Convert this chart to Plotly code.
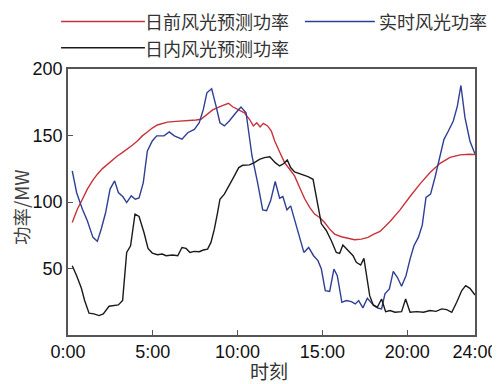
import plotly.graph_objects as go

# 日前风光预测功率 (day-ahead forecast)
t_dayahead = [0.25, 0.55, 0.85, 1.14, 1.44, 1.73, 2.03, 2.32, 2.61, 2.91, 3.20, 3.50, 3.79, 4.09,
              4.38, 4.68, 4.97, 5.27, 5.56, 5.86, 6.37, 6.96, 7.55, 7.84, 8.13, 8.53, 8.92, 9.22,
              9.46, 9.71, 10.07, 10.40, 10.70, 10.93, 11.13, 11.33, 11.52, 11.77, 11.99, 12.19,
              12.48, 12.77, 13.07, 13.36, 13.66, 13.95, 14.25, 14.54, 14.84, 15.13, 15.43, 15.72,
              16.12, 16.51, 16.90, 17.30, 17.69, 18.04, 18.40, 18.99, 19.58, 20.17, 20.76, 21.35,
              21.94, 22.53, 23.12, 23.70, 24.00]
p_dayahead = [84.6, 94.6, 102.1, 109.7, 115.9, 120.9, 125.1, 128.4, 131.7, 134.6, 137.1, 139.7, 142.7, 145.9,
              149.7, 152.6, 155.6, 157.9, 159.1, 160.1, 160.6, 160.9, 161.7, 162.2, 165.2, 169.2, 171.6, 173.1,
              174.2, 171.6, 169.2, 167.1, 162.2, 157.2, 159.6, 156.4, 159.1, 157.2, 153.4, 145.9,
              137.6, 129.6, 124.6, 119.6, 110.9, 102.6, 95.9, 90.9, 88.4, 84.6, 79.6, 75.9,
              73.9, 72.6, 71.6, 72.1, 73.4, 75.9, 77.9, 85.4, 94.1, 104.1, 113.6, 122.1,
              129.1, 133.6, 135.4, 135.9, 135.6]

# 实时风光功率 (real-time)
t_real = [0.25, 0.51, 0.85, 1.14, 1.47, 1.73, 1.96, 2.22, 2.48, 2.75, 2.97, 3.24, 3.46, 3.73, 3.97,
          4.19, 4.44, 4.68, 4.97, 5.23, 5.66, 5.97, 6.27, 6.72, 7.06, 7.45, 7.74, 7.98, 8.19, 8.47,
          8.73, 8.96, 9.22, 9.51, 9.90, 10.20, 10.50, 10.65, 10.85, 11.18, 11.48, 11.71, 11.95,
          12.22, 12.48, 12.67, 12.91, 13.13, 13.36, 13.66, 13.91, 14.19, 14.48, 14.74, 14.94,
          15.17, 15.43, 15.68, 15.88, 16.15, 16.41, 16.71, 16.94, 17.14, 17.39, 17.65, 17.88,
          18.04, 18.30, 18.49, 18.69, 18.95, 19.18, 19.42, 19.67, 19.93, 20.17, 20.40, 20.66,
          20.89, 21.11, 21.38, 21.64, 21.93, 22.17, 22.43, 22.72, 22.96, 23.17, 23.41, 23.70, 24.00]
p_real = [123.4, 107.0, 94.6, 85.9, 73.4, 70.4, 79.7, 92.1, 109.7, 115.9, 107.1, 103.9, 99.6, 104.6, 102.1,
          103.1, 114.6, 138.4, 145.9, 149.7, 149.7, 152.7, 149.7, 147.2, 152.1, 154.6, 159.6, 169.6, 182.1, 185.1,
          172.1, 159.6, 157.2, 160.9, 167.1, 171.4, 167.1, 152.1, 134.6, 114.6, 94.1, 93.4, 101.1,
          115.4, 102.9, 104.1, 94.1, 97.1, 87.1, 74.6, 62.1, 65.8, 59.6, 55.9, 49.6,
          33.4, 32.8, 49.6, 44.6, 24.6, 25.9, 25.1, 23.4, 25.9, 20.4, 27.6, 24.6,
          22.1, 20.1, 19.6, 30.9, 34.6, 47.8, 43.4, 36.6, 44.6, 57.1, 67.1, 73.4,
          82.6, 103.4, 105.9, 118.4, 134.6, 147.1, 153.4, 160.9, 172.1, 187.6, 163.4, 145.9, 136.0]

# 日内风光预测功率 (intraday forecast)
t_intra = [0.25, 0.51, 0.79, 0.98, 1.24, 1.53, 1.83, 2.08, 2.42, 2.71, 2.97, 3.22, 3.46, 3.69, 3.95,
           4.19, 4.48, 4.72, 4.97, 5.27, 5.56, 5.78, 6.17, 6.47, 6.72, 6.96, 7.19, 7.45, 7.74, 7.98,
           8.23, 8.43, 8.63, 8.82, 8.96, 9.22, 9.51, 9.81, 10.07, 10.30, 10.70, 10.99, 11.29, 11.58,
           11.90, 12.22, 12.48, 12.73, 12.93, 13.13, 13.36, 13.76, 14.15, 14.45, 14.74, 14.94,
           15.23, 15.53, 15.82, 16.02, 16.21, 16.51, 16.81, 17.00, 17.26, 17.45, 17.63, 17.79,
           18.00, 18.24, 18.49, 18.73, 18.99, 19.28, 19.67, 19.91, 20.17, 20.56, 20.96, 21.35,
           21.70, 22.04, 22.33, 22.63, 22.92, 23.22, 23.45, 23.70, 24.00]
p_intra = [52.1, 44.6, 35.1, 25.9, 16.4, 15.9, 14.6, 15.9, 21.6, 22.1, 22.6, 25.9, 62.1, 67.1, 90.9,
           89.1, 77.1, 65.1, 61.6, 60.4, 60.9, 59.6, 60.1, 59.6, 65.8, 65.1, 62.1, 62.9, 62.6, 63.9,
           64.6, 69.6, 79.6, 92.1, 102.1, 105.9, 112.1, 119.6, 125.9, 127.6, 127.9, 129.6, 132.1, 133.4,
           134.0, 129.6, 127.1, 128.9, 131.6, 125.9, 122.6, 120.9, 119.1, 117.1, 98.4, 83.6,
           78.6, 70.9, 62.1, 61.4, 67.6, 63.9, 59.6, 54.6, 52.6, 57.6, 42.1, 29.6,
           22.6, 20.9, 27.1, 17.6, 18.4, 17.1, 17.6, 27.1, 17.1, 17.6, 17.1, 18.4,
           17.8, 19.6, 19.1, 17.1, 24.6, 33.4, 37.1, 35.1, 30.1]

x_tickvals = [0, 5, 10, 15, 20, 24]
x_ticktext = ["0:00", "5:00", "10:00", "15:00", "20:00", "24:00"]
y_tickvals = [50, 100, 150, 200]

names = ["日前风光预测功率", "实时风光功率", "日内风光预测功率"]
colors = ["#c8323a", "#2f3f93", "#1a1a1a"]

fig = go.Figure()
fig.add_trace(go.Scatter(x=t_dayahead, y=p_dayahead, mode="lines", name=names[0],
                         line=dict(color=colors[0], width=1.4)))
fig.add_trace(go.Scatter(x=t_real, y=p_real, mode="lines", name=names[1],
                         line=dict(color=colors[1], width=1.4)))
fig.add_trace(go.Scatter(x=t_intra, y=p_intra, mode="lines", name=names[2],
                         line=dict(color=colors[2], width=1.4)))

num_font = dict(family="Liberation Sans, Arial, sans-serif", size=18, color="#111111")
cjk = "Noto Sans CJK SC, sans-serif"

# page body has an 8px default margin, so the figure is sized 8px smaller
fig.update_layout(
    width=492, height=376,
    margin=dict(l=60, r=25, t=61, b=49),
    paper_bgcolor="white", plot_bgcolor="white",
    showlegend=False,
    xaxis=dict(range=[0, 24], tickvals=x_tickvals, ticktext=x_ticktext,
               ticks="inside", ticklen=5, tickcolor="#555555", tickwidth=1.2,
               showline=True, linecolor="#555555", linewidth=1.5, mirror=True,
               showgrid=False, zeroline=False, tickfont=num_font, automargin=False),
    yaxis=dict(range=[0, 200], tickvals=y_tickvals,
               ticks="inside", ticklen=5, tickcolor="#555555", tickwidth=1.2,
               showline=True, linecolor="#555555", linewidth=1.5, mirror=True,
               showgrid=False, zeroline=False, tickfont=num_font, automargin=False),
)

# legend drawn manually (long line keys)
def key(x0, x1, y, color):
    fig.add_shape(type="line", xref="paper", yref="paper", x0=x0, x1=x1, y0=y, y1=y,
                  line=dict(color=color, width=1.4))

row1, row2 = 1.1786, 1.0801
key(-0.017, 0.189, row1, colors[0])
key(0.582, 0.754, row1, colors[1])
key(-0.017, 0.189, row2, colors[2])
leg_font = dict(family=cjk, size=18, color="#333333")
fig.add_annotation(xref="paper", yref="paper", x=0.189, y=row1, text=names[0], showarrow=False,
                   xanchor="left", yanchor="middle", font=leg_font, xshift=-1, borderpad=0)
fig.add_annotation(xref="paper", yref="paper", x=0.763, y=row1, text=names[1], showarrow=False,
                   xanchor="left", yanchor="middle", font=leg_font, xshift=-1, borderpad=0)
fig.add_annotation(xref="paper", yref="paper", x=0.189, y=row2, text=names[2], showarrow=False,
                   xanchor="left", yanchor="middle", font=leg_font, xshift=-1, borderpad=0)

# axis titles
fig.add_annotation(xref="paper", yref="paper", x=0.494, y=-0.135, text="时刻", showarrow=False,
                   xanchor="center", yanchor="middle", font=dict(family=cjk, size=19, color="#333333"))
fig.add_annotation(xref="paper", yref="paper", x=-0.1155, y=0.481, text="功率/MW", showarrow=False,
                   textangle=-90, xanchor="center", yanchor="middle", borderpad=0,
                   font=dict(family="Noto Sans CJK SC, Liberation Sans, sans-serif", size=18.5, color="#444444"))

fig.write_html("out.html")
